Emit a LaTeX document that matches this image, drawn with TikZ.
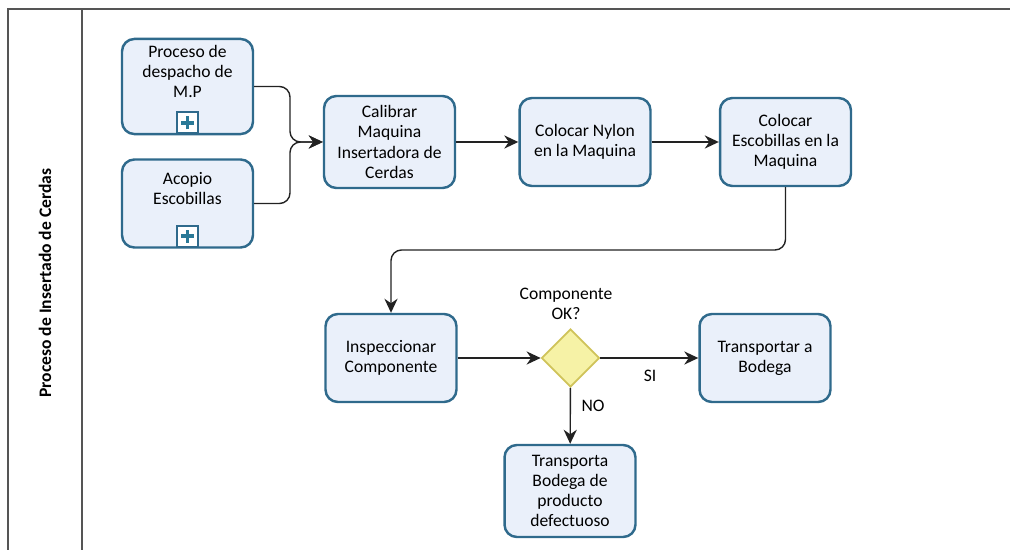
\documentclass[tikz,border=0pt]{standalone}
\usepackage{fontspec}
\setmainfont{Carlito}
\usetikzlibrary{shapes.geometric,arrows.meta}

\definecolor{taskborder}{HTML}{2F6A8C}
\definecolor{taskfill}{HTML}{EAF0FA}
\definecolor{gatefill}{HTML}{F6F2A6}
\definecolor{gateborder}{HTML}{CFC35A}
\definecolor{flowline}{HTML}{222222}
\definecolor{poolline}{HTML}{555555}

\tikzstyle{task} = [rectangle, rounded corners=7pt, minimum width=2.62cm, minimum height=1.76cm, align=center, font=\fontsize{10}{11.5}\selectfont, draw=taskborder, line width=1.4pt, fill=taskfill]
\tikzstyle{gate} = [diamond, minimum size=1.16cm, inner sep=0pt, draw=gateborder, line width=1pt, fill=gatefill]
\tikzstyle{marker} = [rectangle, minimum size=0.42cm, inner sep=0pt, draw=taskborder, line width=1pt, fill=white]
\tikzstyle{plus} = [line width=2.2pt, draw=taskborder!90!cyan]
\tikzstyle{arrow} = [thick,->,>={Stealth[length=8pt,width=7.5pt]}, draw=flowline]
\tikzstyle{lbl} = [align=center, font=\fontsize{10}{11.5}\selectfont]
\tikzstyle{pool} = [line width=1.5pt, draw=poolline]

\begin{document}
\begin{tikzpicture}[x=0.02cm, y=-0.02cm]
	\useasboundingbox (0,0) rectangle (1010,550);

	% pool and lane
	\draw [pool] (1010,9) -- (8,9) -- (8,550);
	\draw [pool] (82,9) -- (82,550);
	\node (lane) [rotate=90, font=\bfseries\fontsize{10}{12}\selectfont] at (45,283) {Proceso de Insertado de Cerdas};

	% tasks
	\node (despacho) [task] at (187.5,86.5) {Proceso de\\despacho de\\M.P\\[6pt]};
	\node (acopio) [task] at (187.5,203.5) {Acopio\\Escobillas\\[6pt]};
	\node (calibrar) [task, minimum height=1.84cm] at (389.5,142) {Calibrar\\Maquina\\Insertadora de\\Cerdas};
	\node (nylon) [task] at (585,142) {Colocar Nylon\\en la Maquina};
	\node (escobillas) [task] at (785.5,142) {Colocar\\Escobillas en la\\Maquina};
	\node (inspeccionar) [task] at (391,358) {Inspeccionar\\Componente};
	\node (gw) [gate] at (570.5,358) {};
	\node (gwlabel) [lbl] at (566,304) {Componente\\OK?};
	\node (bodega) [task] at (765,358) {Transportar a\\Bodega};
	\node (defectuoso) [task, minimum height=1.84cm] at (570,491) {Transporta\\Bodega de\\producto\\defectuoso};

	% sub-process markers
	\node (mA) [marker, anchor=south] at ([yshift=0.6pt]despacho.south) {};
	\node (mB) [marker, anchor=south] at ([yshift=0.6pt]acopio.south) {};
	\foreach \m in {mA,mB} {
		\draw [plus] (\m.center) +(-0.13cm,0) -- +(0.13cm,0);
		\draw [plus] (\m.center) +(0,-0.13cm) -- +(0,0.13cm);
	}

	% flows
	\coordinate (join) at (290,142);
	\coordinate (bend) at (391,250);
	\draw [arrow, rounded corners=6pt] (despacho.east) -| (join) -- (calibrar.west);
	\draw [arrow, rounded corners=6pt] (acopio.east) -| (join) -- (calibrar.west);
	\draw [arrow] (calibrar) -- (nylon);
	\draw [arrow] (nylon) -- (escobillas);
	\draw [arrow, rounded corners=6pt] (escobillas.south) |- (bend) -- (inspeccionar.north);
	\draw [arrow] (inspeccionar) -- (gw);
	\draw [arrow] (gw) -- (bodega);
	\draw [arrow] (gw) -- (defectuoso);
	\node (si) [lbl] at (650,376) {SI};
	\node (no) [lbl] at (593,406) {NO};
\end{tikzpicture}
\end{document}
